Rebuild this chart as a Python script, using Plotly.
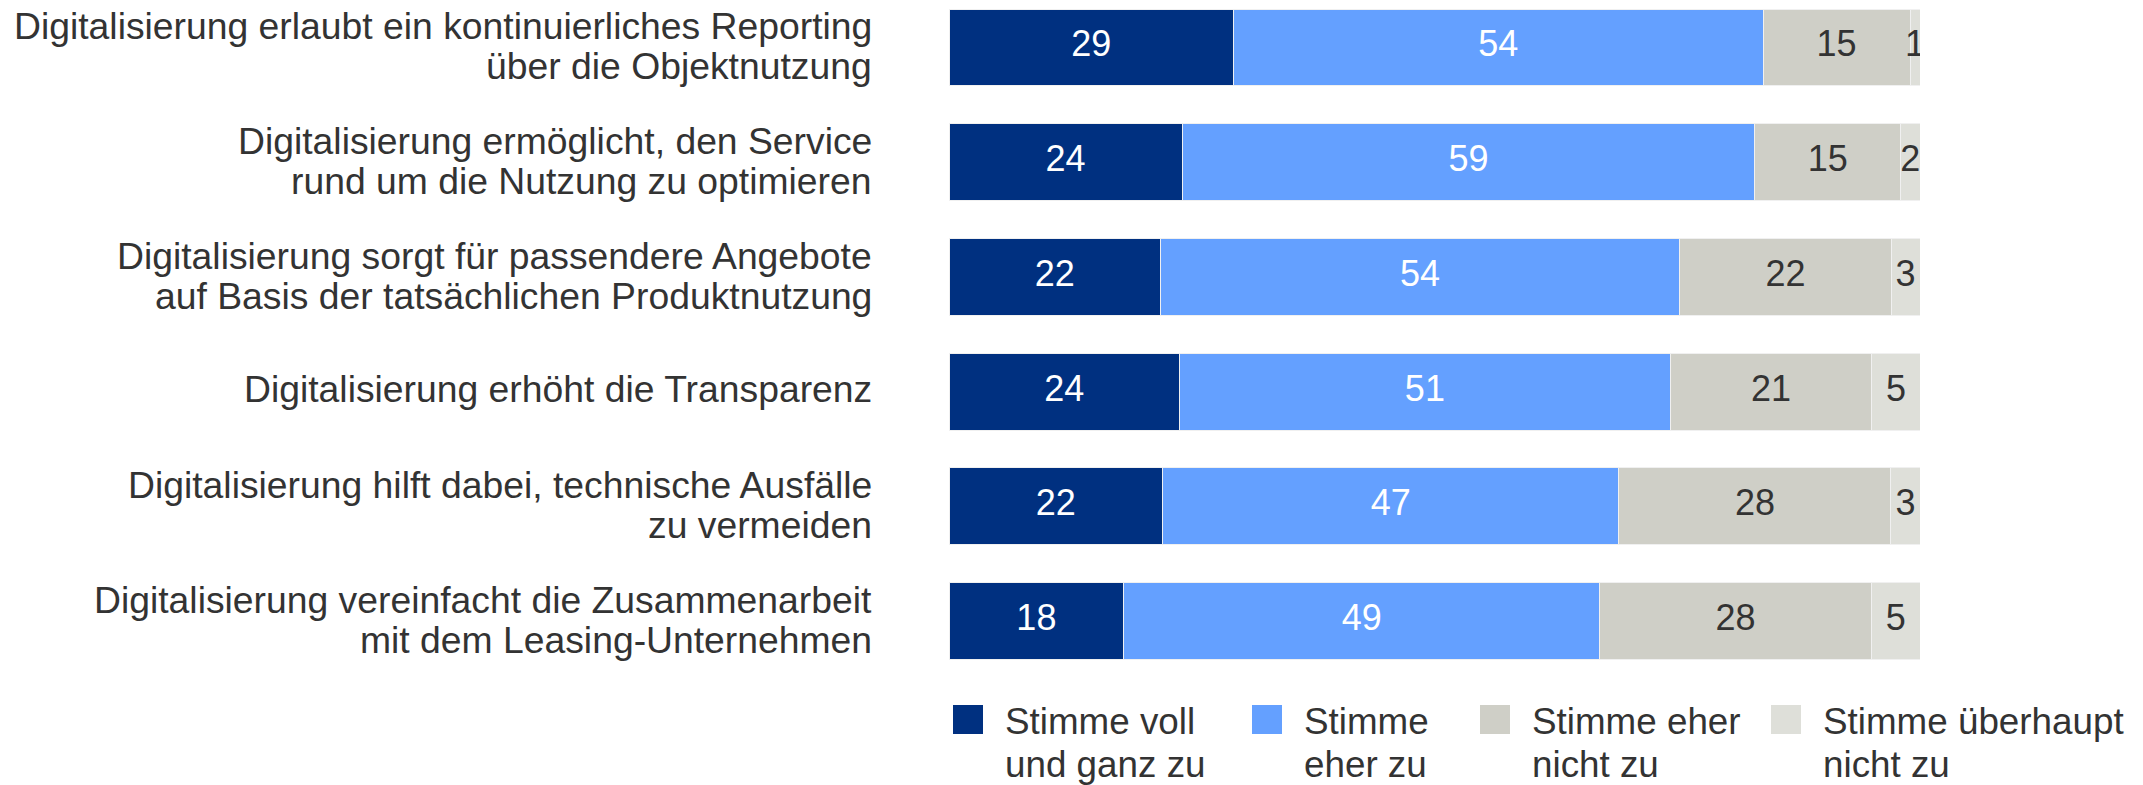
import numpy as np
import plotly.graph_objects as go

categories = [
    "Digitalisierung erlaubt ein kontinuierliches Reporting<br>über die Objektnutzung",
    "Digitalisierung ermöglicht, den Service<br>rund um die Nutzung zu optimieren",
    "Digitalisierung sorgt für passendere Angebote<br>auf Basis der tatsächlichen Produktnutzung",
    "Digitalisierung erhöht die Transparenz",
    "Digitalisierung hilft dabei, technische Ausfälle<br>zu vermeiden",
    "Digitalisierung vereinfacht die Zusammenarbeit<br>mit dem Leasing-Unternehmen",
]
series_names = [
    "Stimme voll<br>und ganz zu",
    "Stimme<br>eher zu",
    "Stimme eher<br>nicht zu",
    "Stimme überhaupt<br>nicht zu",
]
voll = [29, 24, 22, 24, 22, 18]
eher = [54, 59, 54, 51, 47, 49]
eher_nicht = [15, 15, 22, 21, 28, 28]
ueberhaupt_nicht = [1, 2, 3, 5, 3, 5]

colors = ["#003080", "#64A0FF", "#CFCFC7", "#DEDFD9"]
text_colors = ["#FFFFFF", "#FFFFFF", "#333333", "#333333"]
FONT = "Liberation Sans, Arial, sans-serif"

series = [voll, eher, eher_nicht, ueberhaupt_nicht]
ykeys = list(range(len(categories)))

fig = go.Figure()
for name, vals, col in zip(series_names, series, colors):
    fig.add_trace(go.Bar(
        y=ykeys, x=vals, orientation="h", name=name.replace("<br>", " "),
        marker=dict(color=col, line=dict(width=1, color="rgba(240,240,240,1)")),
        hoverinfo="x+name", showlegend=False,
    ))

# value labels at segment centres (normalised to 100%)
arr = np.array(series, dtype=float)
totals = arr.sum(axis=0)
cum = np.cumsum(arr, axis=0)
mids = (cum - arr / 2) / totals * 100
for k in range(len(series)):
    fig.add_trace(go.Scatter(
        y=ykeys, x=mids[k], mode="text", text=[str(v) for v in series[k]],
        textfont=dict(family=FONT, size=36, color=text_colors[k]),
        textposition="middle center", hoverinfo="skip", showlegend=False,
    ))

# category labels (tight line spacing, one annotation per line)
for i, lab in enumerate(categories):
    lines = lab.split("<br>")
    if len(lines) == 1:
        shifts = [3]
    else:
        shifts = [21, -19]
    for line, sh in zip(lines, shifts):
        fig.add_annotation(
            xref="paper", yref="y", x=0, y=i, xshift=-75, yshift=sh,
            text=line, showarrow=False, xanchor="right", yanchor="middle",
            font=dict(family=FONT, size=37.3, color="#333333"),
        )

# legend drawn manually
L, R, T, B = 949, 1920, 0, 680
def px(xp):
    return (xp - L) / (R - L)
def py(yp):
    return (B - yp) / (B - T)

legend_left = [953, 1252, 1480, 1771]
for name, col, lx in zip(series_names, colors, legend_left):
    fig.add_shape(type="rect", xref="paper", yref="paper",
                  x0=px(lx), x1=px(lx + 30), y0=py(734), y1=py(705),
                  fillcolor=col, line=dict(width=0))
    for line, yy in zip(name.split("<br>"), [721, 764]):
        fig.add_annotation(
            xref="paper", yref="paper", x=px(lx + 50), y=py(yy),
            text=line, showarrow=False, xanchor="left", yanchor="middle",
            font=dict(family=FONT, size=36.8, color="#333333"),
        )

fig.update_layout(
    width=2143, height=785,
    barmode="stack", barnorm="percent", bargap=0.329,
    margin=dict(l=L, r=2143 - R, t=T, b=785 - B, pad=0),
    paper_bgcolor="white", plot_bgcolor="white",
    showlegend=False,
    xaxis=dict(range=[0, 100], visible=False, fixedrange=True),
    yaxis=dict(range=[5.514, -0.414], visible=False, fixedrange=True),
    font=dict(family=FONT, color="#333333"),
)

fig.write_html(
    "out.html",
    config={"displayModeBar": False},
    post_script="document.body.style.margin='0';document.body.style.overflow='hidden';",
)
